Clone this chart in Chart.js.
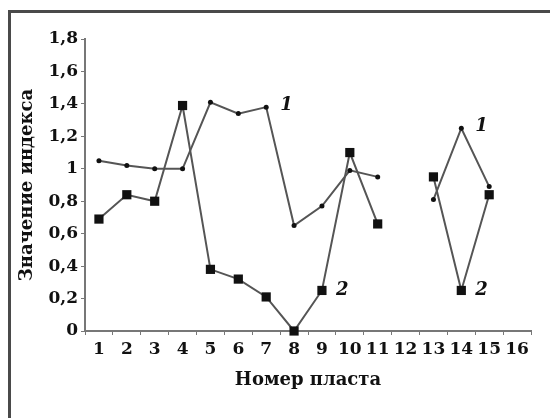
<!DOCTYPE html>
<html>
<head>
<meta charset="utf-8">
<script src="https://cdn.jsdelivr.net/npm/chart.js@4"></script>
<style>
  html, body { margin: 0; padding: 0; background: #fff; }
  #wrap { position: relative; width: 550px; height: 418px; overflow: hidden; }
  #frame {
    position: absolute; left: 8px; top: 10px; width: 600px; height: 500px;
    border-left: 3px solid #4a4a4a; border-top: 3px solid #4a4a4a;
    pointer-events: none;
  }
</style>
</head>
<body>
<div id="wrap">
  <canvas id="chart" width="550" height="418"></canvas>
  <div id="frame"></div>
</div>
<script>
// Номер пласта
const categories = ["1", "2", "3", "4", "5", "6", "7", "8", "9", "10", "11", "12", "13", "14", "15", "16"];

// Кривая 1 (точки) и кривая 2 (квадраты), пласт 12 и 16 без данных
const series1 = [1.05, 1.02, 1.00, 1.00, 1.41, 1.34, 1.38, 0.65, 0.77, 0.99, 0.95, null, 0.81, 1.25, 0.89, null];
const series2 = [0.69, 0.84, 0.80, 1.39, 0.38, 0.32, 0.21, 0.00, 0.25, 1.10, 0.66, null, 0.95, 0.25, 0.84, null];

// Подписи оси значений
const yTickLabels = ["0", "0,2", "0,4", "0,6", "0,8", "1", "1,2", "1,4", "1,6", "1,8"];

// Метки кривых: текст, номер пласта, значение
const curveLabels = ["1", "1", "2", "2"];
const curveLabelCats = ["7", "14", "9", "14"];
const curveLabelValues = [1.39, 1.26, 0.25, 0.25];

const serif = "'DejaVu Serif', 'Liberation Serif', serif";
const textColor = "#111";
const axisColor = "#777";

// Draw the italic "1" / "2" labels next to the curves
const curveLabelPlugin = {
    id: "curveLabels",
    afterDatasetsDraw(chart) {
        const ctx = chart.ctx;
        const xs = chart.scales.x;
        const ys = chart.scales.y;
        ctx.save();
        ctx.font = "italic bold 18px " + serif;
        ctx.fillStyle = textColor;
        ctx.textAlign = "left";
        ctx.textBaseline = "middle";
        curveLabels.forEach((txt, i) => {
            const x = xs.getPixelForValue(categories.indexOf(curveLabelCats[i])) + 14;
            const y = ys.getPixelForValue(curveLabelValues[i]);
            ctx.fillText(txt, x, y);
        });
        ctx.restore();
    }
};

const ctx = document.getElementById("chart").getContext("2d");
new Chart(ctx, {
    type: "line",
    data: {
        labels: categories,
        datasets: [
            {
                label: "1",
                data: series1,
                borderColor: "#555",
                borderWidth: 2,
                pointStyle: "circle",
                pointRadius: 2.5,
                pointBackgroundColor: "#111",
                pointBorderColor: "#111",
                pointBorderWidth: 0,
                tension: 0,
                clip: false
            },
            {
                label: "2",
                data: series2,
                borderColor: "#555",
                borderWidth: 2,
                pointStyle: "rect",
                pointRadius: 6.5,
                pointBackgroundColor: "#111",
                pointBorderColor: "#111",
                pointBorderWidth: 0,
                tension: 0,
                clip: false
            }
        ]
    },
    options: {
        responsive: false,
        animation: false,
        devicePixelRatio: 1,
        layout: { padding: { left: 0, top: 39, right: 19, bottom: 0 } },
        plugins: {
            legend: { display: false },
            tooltip: { enabled: false }
        },
        scales: {
            x: {
                type: "category",
                offset: true,
                grid: { offset: true, drawOnChartArea: false, tickLength: 4, color: axisColor, lineWidth: 1 },
                border: { color: axisColor, width: 2 },
                ticks: {
                    autoSkip: false, maxRotation: 0, padding: 4,
                    color: textColor, font: { family: serif, size: 17, weight: "bold" }
                },
                title: {
                    display: true, text: "Номер пласта", color: textColor,
                    font: { family: serif, size: 18, weight: "bold" },
                    padding: { top: 0, bottom: 27 }
                },
                afterFit: scale => { scale.height = 87; }
            },
            y: {
                min: 0,
                max: 1.8,
                grid: { drawOnChartArea: false, tickLength: 4, color: axisColor, lineWidth: 1 },
                border: { color: axisColor, width: 2 },
                ticks: {
                    stepSize: 0.2, padding: 3,
                    color: textColor, font: { family: serif, size: 17, weight: "bold" },
                    callback: (value, index) => yTickLabels[index]
                },
                title: {
                    display: true, text: "Значение индекса", color: textColor,
                    font: { family: serif, size: 18, weight: "bold" },
                    padding: { top: 17, bottom: 0 }
                },
                afterFit: scale => { scale.width = 85; }
            }
        }
    },
    plugins: [curveLabelPlugin]
});
</script>
</body>
</html>
